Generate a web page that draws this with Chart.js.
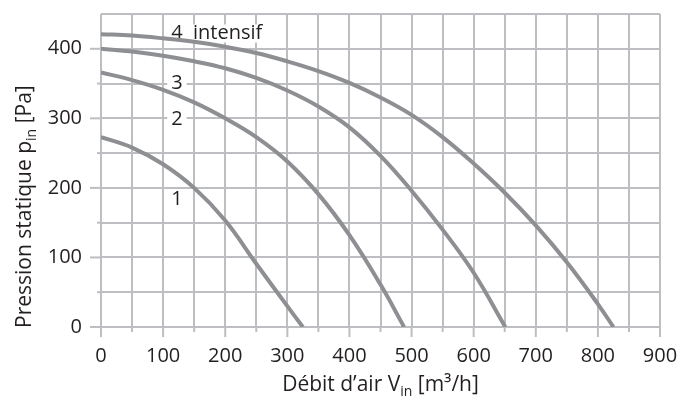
<!DOCTYPE html>
<html lang="fr">
<head>
<meta charset="utf-8">
<script src="https://cdn.jsdelivr.net/npm/chart.js@4.4.1/dist/chart.umd.min.js"></script>
<style>
  html, body { margin: 0; padding: 0; background: #fff; }
</style>
</head>
<body>
<canvas id="fanChart" width="679" height="396"></canvas>
<script>
// Courbes débit / pression
const flow1 = [0, 50, 100, 150, 200, 250, 300, 325];
const pressure1 = [273, 258, 234, 200, 153, 91, 30, 0];

const flow2 = [0, 50, 100, 150, 200, 250, 300, 350, 400, 450, 488];
const pressure2 = [366, 355, 341, 323, 300, 273, 238, 191, 132, 61, 0];

const flow3 = [0, 50, 100, 150, 200, 250, 300, 350, 400, 450, 500, 550, 600, 651];
const pressure3 = [400, 396, 390, 382, 372, 358, 340, 317, 287, 246, 196, 140, 78, 0];

const flow4 = [0, 50, 100, 150, 200, 250, 300, 350, 400, 450, 500, 550, 600, 650, 700, 750, 800, 825];
const pressure4 = [421, 419, 415, 410, 403, 394, 382, 368, 351, 330, 305, 273, 235, 193, 146, 93, 33, 0];

// étiquettes des courbes
const curveNames = ['1', '2', '3', '4  intensif'];
const nameFlow = [113, 113, 113, 113];
const namePressure = [183, 298, 351, 422];

const flowTicks = [0, 100, 200, 300, 400, 500, 600, 700, 800, 900];
const pressureTicks = [0, 100, 200, 300, 400];

const GRID = '#bdbec1';
const CURVE = '#8e8f92';
const INK = '#231f20';
const FONT = "'Open Sans', sans-serif";

const toPoints = (xs, ys) => xs.map((x, i) => ({ x: x, y: ys[i] }));

const makeCurve = (xs, ys) => ({
    data: toPoints(xs, ys),
    borderColor: CURVE,
    borderWidth: 4,
    pointRadius: 0,
    fill: false,
    tension: 0.4
});

// petits traits de graduation (longs pour les centaines, courts sinon)
const tickMarks = {
    id: 'tickMarks',
    beforeDatasetsDraw(chart) {
        const { ctx, chartArea, scales: { x, y } } = chart;
        ctx.save();
        ctx.strokeStyle = GRID;
        ctx.lineWidth = 2;
        x.ticks.forEach(t => {
            const px = x.getPixelForValue(t.value);
            const len = flowTicks.includes(t.value) ? 10 : 5;
            ctx.beginPath();
            ctx.moveTo(px, chartArea.bottom);
            ctx.lineTo(px, chartArea.bottom + len);
            ctx.stroke();
        });
        y.ticks.forEach(t => {
            if (t.value >= y.max) return;
            const py = y.getPixelForValue(t.value);
            const len = pressureTicks.includes(t.value) ? 11 : 4;
            ctx.beginPath();
            ctx.moveTo(chartArea.left, py);
            ctx.lineTo(chartArea.left - len, py);
            ctx.stroke();
        });
        ctx.restore();
    }
};

// noms des courbes, sur fond blanc
const curveLabels = {
    id: 'curveLabels',
    beforeDatasetsDraw(chart) {
        const { ctx, scales: { x, y } } = chart;
        ctx.save();
        ctx.font = '20px ' + FONT;
        ctx.textBaseline = 'middle';
        ctx.textAlign = 'left';
        curveNames.forEach((name, i) => {
            const px = x.getPixelForValue(nameFlow[i]);
            const py = y.getPixelForValue(namePressure[i]);
            const w = ctx.measureText(name).width;
            ctx.fillStyle = '#fff';
            ctx.fillRect(px - 4, py - 9, w + 8, 18);
            ctx.fillStyle = INK;
            ctx.fillText(name, px, py);
        });
        ctx.restore();
    }
};

// titres des axes avec indices
function drawRich(ctx, parts, startX, baseY) {
    let cx = startX;
    parts.forEach(p => {
        ctx.font = (p.sub ? '14px ' : '21px ') + FONT;
        ctx.fillText(p.text, cx, baseY + (p.sub ? 5 : 0));
        cx += ctx.measureText(p.text).width;
    });
    return cx - startX;
}

const axisTitles = {
    id: 'axisTitles',
    afterDraw(chart) {
        const { ctx } = chart;
        ctx.save();
        ctx.fillStyle = INK;
        ctx.textBaseline = 'alphabetic';
        ctx.textAlign = 'left';

        const xParts = [{ text: 'Débit d’air V' }, { text: 'in', sub: true }, { text: ' [m³/h]' }];
        let w = 0;
        xParts.forEach(p => { ctx.font = (p.sub ? '14px ' : '21px ') + FONT; w += ctx.measureText(p.text).width; });
        const cx = (chart.chartArea.left + chart.chartArea.right) / 2;
        drawRich(ctx, xParts, cx - w / 2, 391);

        const yParts = [{ text: 'Pression statique p' }, { text: 'in', sub: true }, { text: ' [Pa]' }];
        ctx.translate(31, 328);
        ctx.rotate(-Math.PI / 2);
        drawRich(ctx, yParts, 0, 0);
        ctx.restore();
    }
};

const tickFont = { family: FONT, size: 20 };

new Chart(document.getElementById('fanChart'), {
    type: 'line',
    data: {
        datasets: [
            makeCurve(flow1, pressure1),
            makeCurve(flow2, pressure2),
            makeCurve(flow3, pressure3),
            makeCurve(flow4, pressure4)
        ]
    },
    options: {
        responsive: false,
        devicePixelRatio: 1,
        animation: false,
        layout: { padding: { top: 14, right: 19, left: 0, bottom: 0 } },
        plugins: {
            legend: { display: false },
            tooltip: { enabled: false }
        },
        scales: {
            x: {
                type: 'linear',
                min: 0,
                max: 900,
                afterFit: s => {
                    s.height = 69;
                    s.paddingLeft = 0;
                    s.paddingRight = 0;
                },
                border: { display: false },
                grid: { color: GRID, lineWidth: 2, drawTicks: false },
                ticks: {
                    stepSize: 50,
                    padding: 17,
                    color: INK,
                    font: tickFont,
                    maxRotation: 0,
                    autoSkip: false,
                    callback: v => (flowTicks.includes(v) ? String(v) : '')
                }
            },
            y: {
                min: 0,
                max: 450,
                afterFit: s => {
                    s.width = 101;
                    s.paddingTop = 0;
                    s.paddingBottom = 0;
                },
                border: { display: false },
                grid: { color: GRID, lineWidth: 2, drawTicks: false },
                ticks: {
                    stepSize: 50,
                    padding: 19,
                    color: INK,
                    font: tickFont,
                    autoSkip: false,
                    callback: v => (pressureTicks.includes(v) ? String(v) : '')
                }
            }
        }
    },
    plugins: [tickMarks, curveLabels, axisTitles]
});
</script>
</body>
</html>
